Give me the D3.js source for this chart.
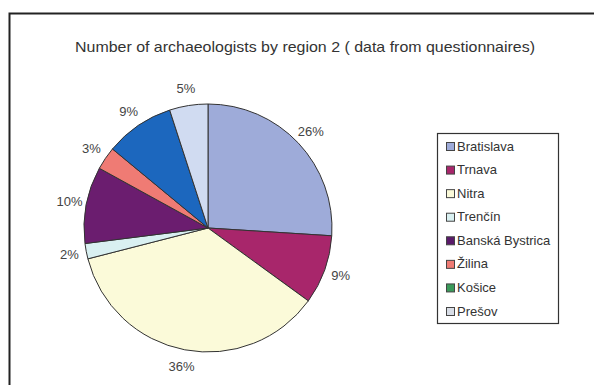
<!DOCTYPE html>
<html>
<head>
    <title>Number of archaeologists by region</title>
    <script src="https://d3js.org/d3.v7.min.js"></script>
    <style>
        body { margin: 0; background: #fff; }
        text { font-family: 'Liberation Sans', Arial, sans-serif; }
    </style>
</head>
<body>
    <script>
        var regions = ["Bratislava", "Trnava", "Nitra", "Trenčín", "Banská Bystrica", "Žilina", "Košice", "Prešov"];
        var shares = [26, 9, 36, 2, 10, 3, 9, 5];
        var sliceColors = ["#9eabd9", "#a8266b", "#fbfad9", "#d9f0f1", "#6b1d6f", "#ef7b74", "#1c67be", "#d0dbf1"];
        var legendColors = ["#9eabd9", "#a8266b", "#fbfad9", "#d9f0f1", "#5a1a6a", "#ef7b74", "#3a9a5a", "#d8dde6"];

        var width = 594, height = 385;
        var svg = d3.select("body").append("svg")
            .attr("width", width)
            .attr("height", height);

        // chart frame (cropped at right and bottom)
        svg.append("path")
            .attr("d", "M9.5," + height + "V13.5H" + width)
            .attr("fill", "none")
            .attr("stroke", "#222")
            .attr("stroke-width", 2);

        svg.append("text")
            .attr("x", 305)
            .attr("y", 52)
            .attr("text-anchor", "middle")
            .attr("font-size", 15)
            .attr("textLength", 460)
            .attr("lengthAdjust", "spacingAndGlyphs")
            .attr("fill", "#333")
            .text("Number of archaeologists by region 2 ( data from questionnaires)");

        var cx = 208, cy = 228, r = 124;
        var data = regions.map(function(d, i) { return { name: d, value: shares[i], i: i }; });

        var pie = d3.pie().sort(null).value(function(d) { return d.value; });
        var arc = d3.arc().innerRadius(0).outerRadius(r);
        var labelArc = d3.arc().innerRadius(r + 17).outerRadius(r + 17);

        var g = svg.append("g").attr("transform", "translate(" + cx + "," + cy + ")");
        var arcs = pie(data);

        g.selectAll("path")
            .data(arcs)
            .enter().append("path")
            .attr("d", arc)
            .attr("fill", function(d) { return sliceColors[d.data.i]; })
            .attr("stroke", "#333")
            .attr("stroke-width", 1);

        g.selectAll("text")
            .data(arcs)
            .enter().append("text")
            .attr("transform", function(d) { return "translate(" + labelArc.centroid(d) + ")"; })
            .attr("text-anchor", "middle")
            .attr("dy", "0.35em")
            .attr("font-size", 13)
            .attr("fill", "#444")
            .text(function(d) { return d.data.value + "%"; });

        // legend
        var lx = 437, ly = 133, lw = 121, lh = 190;
        svg.append("rect")
            .attr("x", lx + 0.5).attr("y", ly + 0.5)
            .attr("width", lw).attr("height", lh)
            .attr("fill", "#fff")
            .attr("stroke", "#333")
            .attr("stroke-width", 1.2);

        var y = d3.scalePoint().domain(regions).range([ly + 13, ly + 178]);
        var item = svg.append("g").selectAll("g")
            .data(data)
            .enter().append("g")
            .attr("transform", function(d) { return "translate(" + (lx + 9) + "," + y(d.name) + ")"; });

        item.append("rect")
            .attr("x", 0.5).attr("y", -3.5)
            .attr("width", 8).attr("height", 8)
            .attr("fill", function(d) { return legendColors[d.i]; })
            .attr("stroke", "#444");

        item.append("text")
            .attr("x", 11)
            .attr("y", 0)
            .attr("dy", "0.35em")
            .attr("font-size", 13)
            .attr("fill", "#333")
            .text(function(d) { return d.name; });
    </script>
</body>
</html>
